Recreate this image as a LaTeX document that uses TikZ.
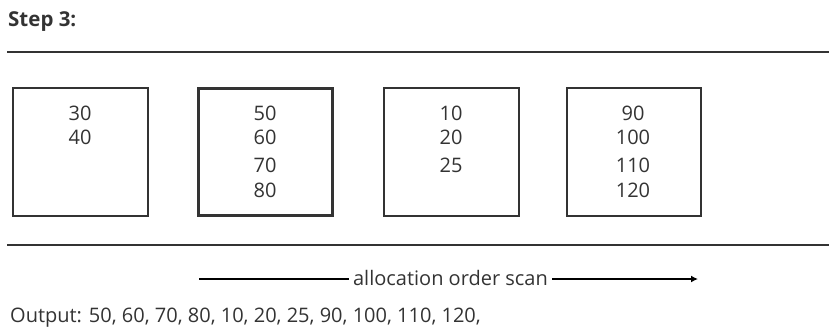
\documentclass[tikz,border=0pt]{standalone}
\usepackage{fontspec}
\setmainfont{Open Sans}
\usetikzlibrary{arrows.meta}
\definecolor{ink}{HTML}{333333}
\begin{document}
\begin{tikzpicture}[x=1pt,y=-1pt,
  txt/.style={inner sep=0pt,anchor=base,text=ink,font=\fontsize{20}{24}\selectfont},
  pagebox/.style={draw=ink,line width=1.3pt},
  rule/.style={draw=ink,line width=1.3pt}]
\useasboundingbox (0,0) rectangle (829,329);
% title
\node[txt,anchor=base west,font=\bfseries\fontsize{20.5}{24}\selectfont] (title) at (8,26.5) {Step 3:};
% rules
\coordinate (t1) at (7,52); \coordinate (t2) at (829,52);
\coordinate (b1) at (7,245); \coordinate (b2) at (829,245);
\draw[rule] (t1) -- (t2);
\draw[rule] (b1) -- (b2);
% boxes
\node[pagebox,minimum width=135pt,minimum height=128pt,inner sep=0pt] (p1) at (80.5,152) {};
\node[pagebox,line width=2.6pt,minimum width=134pt,minimum height=127pt,inner sep=0pt] (p2) at (265.5,152) {};
\node[pagebox,minimum width=135pt,minimum height=128pt,inner sep=0pt] (p3) at (451.5,152) {};
\node[pagebox,minimum width=134pt,minimum height=128pt,inner sep=0pt] (p4) at (634,152) {};
% values
\node[txt] (v30) at (80,120.5) {30};
\node[txt] (v40) at (80,144.5) {40};
\node[txt] (v50) at (265,120.5) {50};
\node[txt] (v60) at (265,144.5) {60};
\node[txt] (v70) at (265,172.5) {70};
\node[txt] (v80) at (265,197) {80};
\node[txt] (v10) at (451,120.5) {10};
\node[txt] (v20) at (451,144.5) {20};
\node[txt] (v25) at (451,172.5) {25};
\node[txt] (v90) at (633,120.5) {90};
\node[txt] (v100) at (633,144.5) {100};
\node[txt] (v110) at (633,172.5) {110};
\node[txt] (v120) at (633,197) {120};
% arrow
\node[txt,anchor=base] (scan) at (450.5,285) {allocation order scan};
\coordinate (a1) at (199,279);
\coordinate (a1e) at (349,279);
\coordinate (a2s) at (552,279);
\coordinate (a2) at (698,279);
\draw[draw=black,line width=1.8pt] (a1) -- (a1e);
\draw[draw=black,line width=1.8pt,-{Latex[length=7pt,width=7pt]}] (a2s) -- (a2);
% output
\node[txt,anchor=base west] (out) at (10,322) {Output: 50, 60, 70, 80, 10, 20, 25, 90, 100, 110, 120,};
\end{tikzpicture}
\end{document}
